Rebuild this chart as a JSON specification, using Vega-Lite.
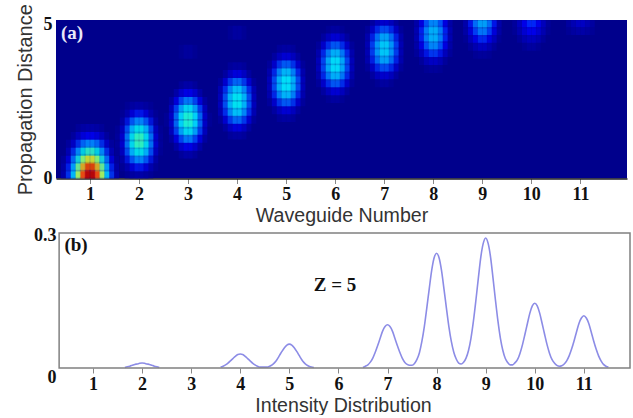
{"$schema":"https://vega.github.io/schema/vega-lite/v6.json","padding":{"left":10,"top":3,"right":0,"bottom":0},"background":"white","spacing":0,"config":{"font":"Liberation Sans","view":{"stroke":null}},"vconcat":[{"hconcat":[{"width":571,"height":158.5,"view":{"fill":"#00008c","stroke":null},"layer":[{"data":{"values":[
{"x":0.7,"z":0,"v":0.32},{"x":0.8,"z":0,"v":0.61},{"x":0.9,"z":0,"v":0.88},{"x":1,"z":0,"v":1},{"x":1.1,"z":0,"v":0.88},{"x":1.2,"z":0,"v":0.61},{"x":1.3,"z":0,"v":0.32},{"x":0.6,"z":0,"v":0.135},{"x":1.4,"z":0,"v":0.135},{"x":0.5,"z":0,"v":0.04},{"x":1.5,"z":0,"v":0.04},
{"x":0.5,"z":0.25,"v":0.04},{"x":0.6,"z":0.25,"v":0.13},{"x":0.7,"z":0.25,"v":0.3},{"x":0.8,"z":0.25,"v":0.57},{"x":0.9,"z":0.25,"v":0.82},{"x":1,"z":0.25,"v":0.93},{"x":1.1,"z":0.25,"v":0.82},{"x":1.2,"z":0.25,"v":0.57},{"x":1.3,"z":0.25,"v":0.3},{"x":1.4,"z":0.25,"v":0.13},{"x":1.5,"z":0.25,"v":0.04},
{"x":0.5,"z":0.5,"v":0.03},{"x":0.6,"z":0.5,"v":0.1},{"x":0.7,"z":0.5,"v":0.23},{"x":0.8,"z":0.5,"v":0.43},{"x":0.9,"z":0.5,"v":0.62},{"x":1,"z":0.5,"v":0.71},{"x":1.1,"z":0.5,"v":0.62},{"x":1.2,"z":0.5,"v":0.43},{"x":1.3,"z":0.5,"v":0.23},{"x":1.4,"z":0.5,"v":0.1},{"x":1.5,"z":0.5,"v":0.03},
{"x":0.6,"z":0.75,"v":0.06},{"x":0.7,"z":0.75,"v":0.15},{"x":0.8,"z":0.75,"v":0.28},{"x":0.9,"z":0.75,"v":0.41},{"x":1,"z":0.75,"v":0.46},{"x":1.1,"z":0.75,"v":0.41},{"x":1.2,"z":0.75,"v":0.28},{"x":1.3,"z":0.75,"v":0.15},{"x":1.4,"z":0.75,"v":0.06},
{"x":0.6,"z":1,"v":0.034},{"x":0.7,"z":1,"v":0.08},{"x":0.8,"z":1,"v":0.15},{"x":0.9,"z":1,"v":0.22},{"x":1,"z":1,"v":0.25},{"x":1.1,"z":1,"v":0.22},{"x":1.2,"z":1,"v":0.15},{"x":1.3,"z":1,"v":0.08},{"x":1.4,"z":1,"v":0.034},
{"x":0.7,"z":1.25,"v":0.035},{"x":0.8,"z":1.25,"v":0.07},{"x":0.9,"z":1.25,"v":0.1},{"x":1,"z":1.25,"v":0.11},{"x":1.1,"z":1.25,"v":0.1},{"x":1.2,"z":1.25,"v":0.07},{"x":1.3,"z":1.25,"v":0.035},
{"x":0.8,"z":1.5,"v":0.025},{"x":0.9,"z":1.5,"v":0.035},{"x":1,"z":1.5,"v":0.04},{"x":1.1,"z":1.5,"v":0.035},{"x":1.2,"z":1.5,"v":0.025},
{"x":1.6,"z":1.2,"v":0.02},{"x":1.7,"z":1.2,"v":0.08},{"x":1.8,"z":1.2,"v":0.22},{"x":1.9,"z":1.2,"v":0.39},{"x":2,"z":1.2,"v":0.47},{"x":2.1,"z":1.2,"v":0.39},{"x":2.2,"z":1.2,"v":0.22},{"x":2.3,"z":1.2,"v":0.08},{"x":2.4,"z":1.2,"v":0.02},
{"x":1.6,"z":0.95,"v":0.02},{"x":1.7,"z":0.95,"v":0.07},{"x":1.8,"z":0.95,"v":0.19},{"x":1.9,"z":0.95,"v":0.33},{"x":2,"z":0.95,"v":0.4},{"x":2.1,"z":0.95,"v":0.33},{"x":2.2,"z":0.95,"v":0.19},{"x":2.3,"z":0.95,"v":0.07},{"x":2.4,"z":0.95,"v":0.02},
{"x":1.6,"z":1.45,"v":0.02},{"x":1.7,"z":1.45,"v":0.07},{"x":1.8,"z":1.45,"v":0.19},{"x":1.9,"z":1.45,"v":0.33},{"x":2,"z":1.45,"v":0.4},{"x":2.1,"z":1.45,"v":0.33},{"x":2.2,"z":1.45,"v":0.19},{"x":2.3,"z":1.45,"v":0.07},{"x":2.4,"z":1.45,"v":0.02},
{"x":1.7,"z":0.7,"v":0.04},{"x":1.8,"z":0.7,"v":0.12},{"x":1.9,"z":0.7,"v":0.21},{"x":2,"z":0.7,"v":0.25},{"x":2.1,"z":0.7,"v":0.21},{"x":2.2,"z":0.7,"v":0.12},{"x":2.3,"z":0.7,"v":0.04},
{"x":1.7,"z":1.7,"v":0.04},{"x":1.8,"z":1.7,"v":0.12},{"x":1.9,"z":1.7,"v":0.21},{"x":2,"z":1.7,"v":0.25},{"x":2.1,"z":1.7,"v":0.21},{"x":2.2,"z":1.7,"v":0.12},{"x":2.3,"z":1.7,"v":0.04},
{"x":1.7,"z":0.45,"v":0.02},{"x":1.8,"z":0.45,"v":0.05},{"x":1.9,"z":0.45,"v":0.1},{"x":2,"z":0.45,"v":0.12},{"x":2.1,"z":0.45,"v":0.1},{"x":2.2,"z":0.45,"v":0.05},{"x":2.3,"z":0.45,"v":0.02},
{"x":1.7,"z":1.95,"v":0.02},{"x":1.8,"z":1.95,"v":0.05},{"x":1.9,"z":1.95,"v":0.1},{"x":2,"z":1.95,"v":0.12},{"x":2.1,"z":1.95,"v":0.1},{"x":2.2,"z":1.95,"v":0.05},{"x":2.3,"z":1.95,"v":0.02},
{"x":1.8,"z":0.2,"v":0.02},{"x":1.9,"z":0.2,"v":0.03},{"x":2,"z":0.2,"v":0.04},{"x":2.1,"z":0.2,"v":0.03},{"x":2.2,"z":0.2,"v":0.02},
{"x":1.8,"z":2.2,"v":0.02},{"x":1.9,"z":2.2,"v":0.03},{"x":2,"z":2.2,"v":0.04},{"x":2.1,"z":2.2,"v":0.03},{"x":2.2,"z":2.2,"v":0.02},
{"x":2.6,"z":1.85,"v":0.02},{"x":2.7,"z":1.85,"v":0.07},{"x":2.8,"z":1.85,"v":0.2},{"x":2.9,"z":1.85,"v":0.36},{"x":3,"z":1.85,"v":0.44},{"x":3.1,"z":1.85,"v":0.36},{"x":3.2,"z":1.85,"v":0.2},{"x":3.3,"z":1.85,"v":0.07},{"x":3.4,"z":1.85,"v":0.02},
{"x":2.7,"z":1.6,"v":0.07},{"x":2.8,"z":1.6,"v":0.18},{"x":2.9,"z":1.6,"v":0.31},{"x":3,"z":1.6,"v":0.38},{"x":3.1,"z":1.6,"v":0.31},{"x":3.2,"z":1.6,"v":0.18},{"x":3.3,"z":1.6,"v":0.07},
{"x":2.7,"z":2.1,"v":0.07},{"x":2.8,"z":2.1,"v":0.18},{"x":2.9,"z":2.1,"v":0.31},{"x":3,"z":2.1,"v":0.38},{"x":3.1,"z":2.1,"v":0.31},{"x":3.2,"z":2.1,"v":0.18},{"x":3.3,"z":2.1,"v":0.07},
{"x":2.7,"z":1.35,"v":0.04},{"x":2.8,"z":1.35,"v":0.11},{"x":2.9,"z":1.35,"v":0.19},{"x":3,"z":1.35,"v":0.24},{"x":3.1,"z":1.35,"v":0.19},{"x":3.2,"z":1.35,"v":0.11},{"x":3.3,"z":1.35,"v":0.04},
{"x":2.7,"z":2.35,"v":0.04},{"x":2.8,"z":2.35,"v":0.11},{"x":2.9,"z":2.35,"v":0.19},{"x":3,"z":2.35,"v":0.24},{"x":3.1,"z":2.35,"v":0.19},{"x":3.2,"z":2.35,"v":0.11},{"x":3.3,"z":2.35,"v":0.04},
{"x":2.8,"z":1.1,"v":0.05},{"x":2.9,"z":1.1,"v":0.09},{"x":3,"z":1.1,"v":0.11},{"x":3.1,"z":1.1,"v":0.09},{"x":3.2,"z":1.1,"v":0.05},
{"x":2.8,"z":2.6,"v":0.05},{"x":2.9,"z":2.6,"v":0.09},{"x":3,"z":2.6,"v":0.11},{"x":3.1,"z":2.6,"v":0.09},{"x":3.2,"z":2.6,"v":0.05},
{"x":2.9,"z":0.85,"v":0.03},{"x":3,"z":0.85,"v":0.04},{"x":3.1,"z":0.85,"v":0.03},{"x":2.9,"z":2.85,"v":0.03},{"x":3,"z":2.85,"v":0.04},{"x":3.1,"z":2.85,"v":0.03},
{"x":3.7,"z":2.45,"v":0.06},{"x":3.8,"z":2.45,"v":0.17},{"x":3.9,"z":2.45,"v":0.31},{"x":4,"z":2.45,"v":0.38},{"x":4.1,"z":2.45,"v":0.31},{"x":4.2,"z":2.45,"v":0.17},{"x":4.3,"z":2.45,"v":0.06},
{"x":3.7,"z":2.2,"v":0.06},{"x":3.8,"z":2.2,"v":0.15},{"x":3.9,"z":2.2,"v":0.27},{"x":4,"z":2.2,"v":0.33},{"x":4.1,"z":2.2,"v":0.27},{"x":4.2,"z":2.2,"v":0.15},{"x":4.3,"z":2.2,"v":0.06},
{"x":3.7,"z":2.7,"v":0.06},{"x":3.8,"z":2.7,"v":0.15},{"x":3.9,"z":2.7,"v":0.27},{"x":4,"z":2.7,"v":0.33},{"x":4.1,"z":2.7,"v":0.27},{"x":4.2,"z":2.7,"v":0.15},{"x":4.3,"z":2.7,"v":0.06},
{"x":3.7,"z":1.95,"v":0.03},{"x":3.8,"z":1.95,"v":0.1},{"x":3.9,"z":1.95,"v":0.17},{"x":4,"z":1.95,"v":0.21},{"x":4.1,"z":1.95,"v":0.17},{"x":4.2,"z":1.95,"v":0.1},{"x":4.3,"z":1.95,"v":0.03},
{"x":3.7,"z":2.95,"v":0.03},{"x":3.8,"z":2.95,"v":0.1},{"x":3.9,"z":2.95,"v":0.17},{"x":4,"z":2.95,"v":0.21},{"x":4.1,"z":2.95,"v":0.17},{"x":4.2,"z":2.95,"v":0.1},{"x":4.3,"z":2.95,"v":0.03},
{"x":3.8,"z":1.7,"v":0.04},{"x":3.9,"z":1.7,"v":0.08},{"x":4,"z":1.7,"v":0.1},{"x":4.1,"z":1.7,"v":0.08},{"x":4.2,"z":1.7,"v":0.04},
{"x":3.8,"z":3.2,"v":0.04},{"x":3.9,"z":3.2,"v":0.08},{"x":4,"z":3.2,"v":0.1},{"x":4.1,"z":3.2,"v":0.08},{"x":4.2,"z":3.2,"v":0.04},
{"x":3.9,"z":1.45,"v":0.03},{"x":4,"z":1.45,"v":0.03},{"x":4.1,"z":1.45,"v":0.03},{"x":3.9,"z":3.45,"v":0.03},{"x":4,"z":3.45,"v":0.03},{"x":4.1,"z":3.45,"v":0.03},
{"x":4.7,"z":3,"v":0.06},{"x":4.8,"z":3,"v":0.17},{"x":4.9,"z":3,"v":0.3},{"x":5,"z":3,"v":0.36},{"x":5.1,"z":3,"v":0.3},{"x":5.2,"z":3,"v":0.17},{"x":5.3,"z":3,"v":0.06},
{"x":4.7,"z":2.75,"v":0.05},{"x":4.8,"z":2.75,"v":0.14},{"x":4.9,"z":2.75,"v":0.26},{"x":5,"z":2.75,"v":0.31},{"x":5.1,"z":2.75,"v":0.26},{"x":5.2,"z":2.75,"v":0.14},{"x":5.3,"z":2.75,"v":0.05},
{"x":4.7,"z":3.25,"v":0.05},{"x":4.8,"z":3.25,"v":0.14},{"x":4.9,"z":3.25,"v":0.26},{"x":5,"z":3.25,"v":0.31},{"x":5.1,"z":3.25,"v":0.26},{"x":5.2,"z":3.25,"v":0.14},{"x":5.3,"z":3.25,"v":0.05},
{"x":4.7,"z":2.5,"v":0.03},{"x":4.8,"z":2.5,"v":0.09},{"x":4.9,"z":2.5,"v":0.16},{"x":5,"z":2.5,"v":0.19},{"x":5.1,"z":2.5,"v":0.16},{"x":5.2,"z":2.5,"v":0.09},{"x":5.3,"z":2.5,"v":0.03},
{"x":4.7,"z":3.5,"v":0.03},{"x":4.8,"z":3.5,"v":0.09},{"x":4.9,"z":3.5,"v":0.16},{"x":5,"z":3.5,"v":0.19},{"x":5.1,"z":3.5,"v":0.16},{"x":5.2,"z":3.5,"v":0.09},{"x":5.3,"z":3.5,"v":0.03},
{"x":4.8,"z":2.25,"v":0.04},{"x":4.9,"z":2.25,"v":0.07},{"x":5,"z":2.25,"v":0.09},{"x":5.1,"z":2.25,"v":0.07},{"x":5.2,"z":2.25,"v":0.04},
{"x":4.8,"z":3.75,"v":0.04},{"x":4.9,"z":3.75,"v":0.07},{"x":5,"z":3.75,"v":0.09},{"x":5.1,"z":3.75,"v":0.07},{"x":5.2,"z":3.75,"v":0.04},
{"x":4.9,"z":2,"v":0.03},{"x":5,"z":2,"v":0.03},{"x":5.1,"z":2,"v":0.03},{"x":4.9,"z":4,"v":0.03},{"x":5,"z":4,"v":0.03},{"x":5.1,"z":4,"v":0.03},
{"x":5.7,"z":3.6,"v":0.06},{"x":5.8,"z":3.6,"v":0.16},{"x":5.9,"z":3.6,"v":0.29},{"x":6,"z":3.6,"v":0.35},{"x":6.1,"z":3.6,"v":0.29},{"x":6.2,"z":3.6,"v":0.16},{"x":6.3,"z":3.6,"v":0.06},
{"x":5.7,"z":3.35,"v":0.05},{"x":5.8,"z":3.35,"v":0.14},{"x":5.9,"z":3.35,"v":0.25},{"x":6,"z":3.35,"v":0.3},{"x":6.1,"z":3.35,"v":0.25},{"x":6.2,"z":3.35,"v":0.14},{"x":6.3,"z":3.35,"v":0.05},
{"x":5.7,"z":3.85,"v":0.05},{"x":5.8,"z":3.85,"v":0.14},{"x":5.9,"z":3.85,"v":0.25},{"x":6,"z":3.85,"v":0.3},{"x":6.1,"z":3.85,"v":0.25},{"x":6.2,"z":3.85,"v":0.14},{"x":6.3,"z":3.85,"v":0.05},
{"x":5.7,"z":3.1,"v":0.03},{"x":5.8,"z":3.1,"v":0.09},{"x":5.9,"z":3.1,"v":0.15},{"x":6,"z":3.1,"v":0.19},{"x":6.1,"z":3.1,"v":0.15},{"x":6.2,"z":3.1,"v":0.09},{"x":6.3,"z":3.1,"v":0.03},
{"x":5.7,"z":4.1,"v":0.03},{"x":5.8,"z":4.1,"v":0.09},{"x":5.9,"z":4.1,"v":0.15},{"x":6,"z":4.1,"v":0.19},{"x":6.1,"z":4.1,"v":0.15},{"x":6.2,"z":4.1,"v":0.09},{"x":6.3,"z":4.1,"v":0.03},
{"x":5.8,"z":2.85,"v":0.04},{"x":5.9,"z":2.85,"v":0.07},{"x":6,"z":2.85,"v":0.09},{"x":6.1,"z":2.85,"v":0.07},{"x":6.2,"z":2.85,"v":0.04},
{"x":5.8,"z":4.35,"v":0.04},{"x":5.9,"z":4.35,"v":0.07},{"x":6,"z":4.35,"v":0.09},{"x":6.1,"z":4.35,"v":0.07},{"x":6.2,"z":4.35,"v":0.04},
{"x":5.9,"z":2.6,"v":0.02},{"x":6,"z":2.6,"v":0.03},{"x":6.1,"z":2.6,"v":0.02},{"x":5.9,"z":4.6,"v":0.02},{"x":6,"z":4.6,"v":0.03},{"x":6.1,"z":4.6,"v":0.02},
{"x":6.7,"z":4.1,"v":0.05},{"x":6.8,"z":4.1,"v":0.15},{"x":6.9,"z":4.1,"v":0.26},{"x":7,"z":4.1,"v":0.32},{"x":7.1,"z":4.1,"v":0.26},{"x":7.2,"z":4.1,"v":0.15},{"x":7.3,"z":4.1,"v":0.05},
{"x":6.7,"z":3.85,"v":0.05},{"x":6.8,"z":3.85,"v":0.13},{"x":6.9,"z":3.85,"v":0.23},{"x":7,"z":3.85,"v":0.28},{"x":7.1,"z":3.85,"v":0.23},{"x":7.2,"z":3.85,"v":0.13},{"x":7.3,"z":3.85,"v":0.05},
{"x":6.7,"z":4.35,"v":0.05},{"x":6.8,"z":4.35,"v":0.13},{"x":6.9,"z":4.35,"v":0.23},{"x":7,"z":4.35,"v":0.28},{"x":7.1,"z":4.35,"v":0.23},{"x":7.2,"z":4.35,"v":0.13},{"x":7.3,"z":4.35,"v":0.05},
{"x":6.7,"z":3.6,"v":0.03},{"x":6.8,"z":3.6,"v":0.08},{"x":6.9,"z":3.6,"v":0.14},{"x":7,"z":3.6,"v":0.17},{"x":7.1,"z":3.6,"v":0.14},{"x":7.2,"z":3.6,"v":0.08},{"x":7.3,"z":3.6,"v":0.03},
{"x":6.7,"z":4.6,"v":0.03},{"x":6.8,"z":4.6,"v":0.08},{"x":6.9,"z":4.6,"v":0.14},{"x":7,"z":4.6,"v":0.17},{"x":7.1,"z":4.6,"v":0.14},{"x":7.2,"z":4.6,"v":0.08},{"x":7.3,"z":4.6,"v":0.03},
{"x":6.8,"z":3.35,"v":0.04},{"x":6.9,"z":3.35,"v":0.07},{"x":7,"z":3.35,"v":0.08},{"x":7.1,"z":3.35,"v":0.07},{"x":7.2,"z":3.35,"v":0.04},
{"x":6.8,"z":4.85,"v":0.04},{"x":6.9,"z":4.85,"v":0.07},{"x":7,"z":4.85,"v":0.08},{"x":7.1,"z":4.85,"v":0.07},{"x":7.2,"z":4.85,"v":0.04},
{"x":6.9,"z":3.1,"v":0.02},{"x":7,"z":3.1,"v":0.03},{"x":7.1,"z":3.1,"v":0.02},{"x":6.9,"z":5.1,"v":0.02},{"x":7,"z":5.1,"v":0.03},{"x":7.1,"z":5.1,"v":0.02},
{"x":7.7,"z":4.55,"v":0.05},{"x":7.8,"z":4.55,"v":0.13},{"x":7.9,"z":4.55,"v":0.23},{"x":8,"z":4.55,"v":0.28},{"x":8.1,"z":4.55,"v":0.23},{"x":8.2,"z":4.55,"v":0.13},{"x":8.3,"z":4.55,"v":0.05},
{"x":7.7,"z":4.3,"v":0.04},{"x":7.8,"z":4.3,"v":0.11},{"x":7.9,"z":4.3,"v":0.2},{"x":8,"z":4.3,"v":0.24},{"x":8.1,"z":4.3,"v":0.2},{"x":8.2,"z":4.3,"v":0.11},{"x":8.3,"z":4.3,"v":0.04},
{"x":7.7,"z":4.8,"v":0.04},{"x":7.8,"z":4.8,"v":0.11},{"x":7.9,"z":4.8,"v":0.2},{"x":8,"z":4.8,"v":0.24},{"x":8.1,"z":4.8,"v":0.2},{"x":8.2,"z":4.8,"v":0.11},{"x":8.3,"z":4.8,"v":0.04},
{"x":7.7,"z":4.05,"v":0.03},{"x":7.8,"z":4.05,"v":0.07},{"x":7.9,"z":4.05,"v":0.12},{"x":8,"z":4.05,"v":0.15},{"x":8.1,"z":4.05,"v":0.12},{"x":8.2,"z":4.05,"v":0.07},{"x":8.3,"z":4.05,"v":0.03},
{"x":7.7,"z":5.05,"v":0.03},{"x":7.8,"z":5.05,"v":0.07},{"x":7.9,"z":5.05,"v":0.12},{"x":8,"z":5.05,"v":0.15},{"x":8.1,"z":5.05,"v":0.12},{"x":8.2,"z":5.05,"v":0.07},{"x":8.3,"z":5.05,"v":0.03},
{"x":7.8,"z":3.8,"v":0.03},{"x":7.9,"z":3.8,"v":0.06},{"x":8,"z":3.8,"v":0.07},{"x":8.1,"z":3.8,"v":0.06},{"x":8.2,"z":3.8,"v":0.03},
{"x":7.9,"z":3.55,"v":0.02},{"x":8,"z":3.55,"v":0.02},{"x":8.1,"z":3.55,"v":0.02},
{"x":8.7,"z":5,"v":0.04},{"x":8.8,"z":5,"v":0.12},{"x":8.9,"z":5,"v":0.21},{"x":9,"z":5,"v":0.26},{"x":9.1,"z":5,"v":0.21},{"x":9.2,"z":5,"v":0.12},{"x":9.3,"z":5,"v":0.04},
{"x":8.7,"z":4.75,"v":0.04},{"x":8.8,"z":4.75,"v":0.1},{"x":8.9,"z":4.75,"v":0.18},{"x":9,"z":4.75,"v":0.22},{"x":9.1,"z":4.75,"v":0.18},{"x":9.2,"z":4.75,"v":0.1},{"x":9.3,"z":4.75,"v":0.04},
{"x":8.7,"z":4.5,"v":0.02},{"x":8.8,"z":4.5,"v":0.07},{"x":8.9,"z":4.5,"v":0.11},{"x":9,"z":4.5,"v":0.14},{"x":9.1,"z":4.5,"v":0.11},{"x":9.2,"z":4.5,"v":0.07},{"x":9.3,"z":4.5,"v":0.02},
{"x":8.8,"z":4.25,"v":0.03},{"x":8.9,"z":4.25,"v":0.05},{"x":9,"z":4.25,"v":0.07},{"x":9.1,"z":4.25,"v":0.05},{"x":9.2,"z":4.25,"v":0.03},
{"x":8.9,"z":4,"v":0.02},{"x":9,"z":4,"v":0.02},{"x":9.1,"z":4,"v":0.02},
{"x":9.7,"z":5,"v":0.02},{"x":9.8,"z":5,"v":0.06},{"x":9.9,"z":5,"v":0.11},{"x":10,"z":5,"v":0.14},{"x":10.1,"z":5,"v":0.11},{"x":10.2,"z":5,"v":0.06},{"x":10.3,"z":5,"v":0.02},
{"x":9.7,"z":4.75,"v":0.02},{"x":9.8,"z":4.75,"v":0.05},{"x":9.9,"z":4.75,"v":0.09},{"x":10,"z":4.75,"v":0.11},{"x":10.1,"z":4.75,"v":0.09},{"x":10.2,"z":4.75,"v":0.05},{"x":10.3,"z":4.75,"v":0.02},
{"x":9.8,"z":4.5,"v":0.03},{"x":9.9,"z":4.5,"v":0.05},{"x":10,"z":4.5,"v":0.06},{"x":10.1,"z":4.5,"v":0.05},{"x":10.2,"z":4.5,"v":0.03},
{"x":9.9,"z":4.25,"v":0.02},{"x":10,"z":4.25,"v":0.03},{"x":10.1,"z":4.25,"v":0.02},
{"x":10.8,"z":5,"v":0.03},{"x":10.9,"z":5,"v":0.05},{"x":11,"z":5,"v":0.07},{"x":11.1,"z":5,"v":0.05},{"x":11.2,"z":5,"v":0.03},
{"x":10.8,"z":4.75,"v":0.02},{"x":10.9,"z":4.75,"v":0.03},{"x":11,"z":4.75,"v":0.04},{"x":11.1,"z":4.75,"v":0.03},{"x":11.2,"z":4.75,"v":0.02},
{"x":3.9,"z":4.6,"v":0.02},{"x":4,"z":4.6,"v":0.03},{"x":4.1,"z":4.6,"v":0.02},{"x":2.9,"z":4,"v":0.015},{"x":3,"z":4,"v":0.025},{"x":3.1,"z":4,"v":0.015}
]},"mark":{"type":"rect","width":9,"height":14,"opacity":0.5,"clip":true},"encoding":{"order":{"field":"v","type":"quantitative","sort":"ascending"},"x":{"field":"x","type":"quantitative","scale":{"domain":[0.307,11.95],"nice":false,"zero":false},"axis":{"values":[1,2,3,4,5,6,7,8,9,10,11],"format":"d","grid":false,"title":"Waveguide Number","titleFont":"Liberation Sans","titleFontSize":19.6,"titleFontWeight":"normal","titleColor":"#333333","titlePadding":3,"labelFont":"Liberation Serif","labelFontWeight":"bold","labelFontSize":18,"labelColor":"#111111","labelPadding":2,"tickColor":"#888888","tickSize":5,"domainColor":"#222222","domainWidth":1.5}},"y":{"field":"z","type":"quantitative","scale":{"domain":[0,5],"nice":false,"zero":false},"axis":{"values":[0,5],"grid":false,"title":"Propagation Distance","titleFont":"Liberation Sans","titleFontSize":20,"titleFontWeight":"normal","titleColor":"#333333","titlePadding":8,"labelFont":"Liberation Serif","labelFontWeight":"bold","labelFontSize":18,"labelColor":"#111111","labelPadding":4,"labelOffset":{"condition":{"test":"datum.value==5","value":4},"value":0},"ticks":false,"domain":false}},"color":{"field":"v","type":"quantitative","legend":null,"scale":{"domain":[0,0.11,0.36,0.5,0.64,0.88,1],"range":["#00008c","#0000ff","#00ffff","#80ff80","#ffff00","#ff0000","#a00000"]}}}},{"data":{"values":[{"x":0.633,"z":4.6,"label":"(a)"}]},"mark":{"type":"text","font":"Liberation Serif","fontWeight":"bold","fontSize":19,"color":"#e8e8f8"},"encoding":{"x":{"field":"x","type":"quantitative"},"y":{"field":"z","type":"quantitative"},"text":{"field":"label"}}}]}]},
{"hconcat":[{"width":574,"height":135,"view":{"stroke":null},"layer":[{"data":{"values":[
{"s":"a","x":1.65,"y":0.001},{"s":"a","x":1.7,"y":0.003},{"s":"a","x":1.75,"y":0.004},{"s":"a","x":1.8,"y":0.006},{"s":"a","x":1.85,"y":0.008},{"s":"a","x":1.9,"y":0.009},{"s":"a","x":1.95,"y":0.0105},{"s":"a","x":2,"y":0.011},{"s":"a","x":2.05,"y":0.0105},{"s":"a","x":2.1,"y":0.009},{"s":"a","x":2.15,"y":0.008},{"s":"a","x":2.2,"y":0.006},{"s":"a","x":2.25,"y":0.004},{"s":"a","x":2.3,"y":0.003},{"s":"a","x":2.35,"y":0.001},
{"s":"b","x":3.6,"y":0.002},{"s":"b","x":3.65,"y":0.004},{"s":"b","x":3.7,"y":0.007},{"s":"b","x":3.75,"y":0.011},{"s":"b","x":3.8,"y":0.016},{"s":"b","x":3.85,"y":0.021},{"s":"b","x":3.9,"y":0.026},{"s":"b","x":3.95,"y":0.03},{"s":"b","x":4,"y":0.031},{"s":"b","x":4.05,"y":0.03},{"s":"b","x":4.1,"y":0.026},{"s":"b","x":4.15,"y":0.021},{"s":"b","x":4.2,"y":0.016},{"s":"b","x":4.25,"y":0.011},{"s":"b","x":4.3,"y":0.007},{"s":"b","x":4.35,"y":0.004},{"s":"b","x":4.4,"y":0.002},{"s":"b","x":4.45,"y":0.002},{"s":"b","x":4.5,"y":0.002},{"s":"b","x":4.55,"y":0.002},{"s":"b","x":4.6,"y":0.004},{"s":"b","x":4.65,"y":0.007},{"s":"b","x":4.7,"y":0.012},{"s":"b","x":4.75,"y":0.019},{"s":"b","x":4.8,"y":0.028},{"s":"b","x":4.85,"y":0.037},{"s":"b","x":4.9,"y":0.045},{"s":"b","x":4.95,"y":0.051},{"s":"b","x":5,"y":0.053},{"s":"b","x":5.05,"y":0.051},{"s":"b","x":5.1,"y":0.045},{"s":"b","x":5.15,"y":0.037},{"s":"b","x":5.2,"y":0.028},{"s":"b","x":5.25,"y":0.019},{"s":"b","x":5.3,"y":0.012},{"s":"b","x":5.35,"y":0.007},{"s":"b","x":5.4,"y":0.004},{"s":"b","x":5.45,"y":0.002},{"s":"b","x":5.5,"y":0.001},
{"s":"c","x":6.5,"y":0.001},{"s":"c","x":6.55,"y":0.004},{"s":"c","x":6.6,"y":0.007},{"s":"c","x":6.65,"y":0.013},{"s":"c","x":6.7,"y":0.022},{"s":"c","x":6.75,"y":0.035},{"s":"c","x":6.8,"y":0.05},{"s":"c","x":6.85,"y":0.066},{"s":"c","x":6.9,"y":0.082},{"s":"c","x":6.95,"y":0.092},{"s":"c","x":7,"y":0.096},{"s":"c","x":7.05,"y":0.092},{"s":"c","x":7.1,"y":0.082},{"s":"c","x":7.15,"y":0.066},{"s":"c","x":7.2,"y":0.05},{"s":"c","x":7.25,"y":0.035},{"s":"c","x":7.3,"y":0.022},{"s":"c","x":7.35,"y":0.013},{"s":"c","x":7.4,"y":0.008},{"s":"c","x":7.45,"y":0.006},{"s":"c","x":7.5,"y":0.006},{"s":"c","x":7.55,"y":0.01},{"s":"c","x":7.6,"y":0.019},{"s":"c","x":7.65,"y":0.034},{"s":"c","x":7.7,"y":0.059},{"s":"c","x":7.75,"y":0.092},{"s":"c","x":7.8,"y":0.133},{"s":"c","x":7.85,"y":0.176},{"s":"c","x":7.9,"y":0.217},{"s":"c","x":7.95,"y":0.245},{"s":"c","x":8,"y":0.255},{"s":"c","x":8.05,"y":0.245},{"s":"c","x":8.1,"y":0.217},{"s":"c","x":8.15,"y":0.176},{"s":"c","x":8.2,"y":0.133},{"s":"c","x":8.25,"y":0.092},{"s":"c","x":8.3,"y":0.059},{"s":"c","x":8.35,"y":0.035},{"s":"c","x":8.4,"y":0.02},{"s":"c","x":8.45,"y":0.011},{"s":"c","x":8.5,"y":0.009},{"s":"c","x":8.55,"y":0.013},{"s":"c","x":8.6,"y":0.022},{"s":"c","x":8.65,"y":0.039},{"s":"c","x":8.7,"y":0.066},{"s":"c","x":8.75,"y":0.104},{"s":"c","x":8.8,"y":0.15},{"s":"c","x":8.85,"y":0.199},{"s":"c","x":8.9,"y":0.246},{"s":"c","x":8.95,"y":0.277},{"s":"c","x":9,"y":0.289},{"s":"c","x":9.05,"y":0.277},{"s":"c","x":9.1,"y":0.246},{"s":"c","x":9.15,"y":0.199},{"s":"c","x":9.2,"y":0.15},{"s":"c","x":9.25,"y":0.104},{"s":"c","x":9.3,"y":0.066},{"s":"c","x":9.35,"y":0.039},{"s":"c","x":9.4,"y":0.021},{"s":"c","x":9.45,"y":0.012},{"s":"c","x":9.5,"y":0.007},{"s":"c","x":9.55,"y":0.007},{"s":"c","x":9.6,"y":0.012},{"s":"c","x":9.65,"y":0.019},{"s":"c","x":9.7,"y":0.033},{"s":"c","x":9.75,"y":0.052},{"s":"c","x":9.8,"y":0.075},{"s":"c","x":9.85,"y":0.099},{"s":"c","x":9.9,"y":0.122},{"s":"c","x":9.95,"y":0.138},{"s":"c","x":10,"y":0.144},{"s":"c","x":10.05,"y":0.138},{"s":"c","x":10.1,"y":0.122},{"s":"c","x":10.15,"y":0.099},{"s":"c","x":10.2,"y":0.075},{"s":"c","x":10.25,"y":0.052},{"s":"c","x":10.3,"y":0.033},{"s":"c","x":10.35,"y":0.019},{"s":"c","x":10.4,"y":0.011},{"s":"c","x":10.45,"y":0.006},{"s":"c","x":10.5,"y":0.004},{"s":"c","x":10.55,"y":0.005},{"s":"c","x":10.6,"y":0.009},{"s":"c","x":10.65,"y":0.016},{"s":"c","x":10.7,"y":0.027},{"s":"c","x":10.75,"y":0.042},{"s":"c","x":10.8,"y":0.06},{"s":"c","x":10.85,"y":0.08},{"s":"c","x":10.9,"y":0.099},{"s":"c","x":10.95,"y":0.111},{"s":"c","x":11,"y":0.116},{"s":"c","x":11.05,"y":0.111},{"s":"c","x":11.1,"y":0.099},{"s":"c","x":11.15,"y":0.08},{"s":"c","x":11.2,"y":0.06},{"s":"c","x":11.25,"y":0.042},{"s":"c","x":11.3,"y":0.027},{"s":"c","x":11.35,"y":0.016},{"s":"c","x":11.4,"y":0.008},{"s":"c","x":11.45,"y":0.004},{"s":"c","x":11.5,"y":0.002}
]},"mark":{"type":"line","color":"#8c8ce6","strokeWidth":1.6,"interpolate":"monotone"},"encoding":{"x":{"field":"x","type":"quantitative","scale":{"domain":[0.2464,11.94],"nice":false,"zero":false},"axis":{"values":[1,2,3,4,5,6,7,8,9,10,11],"format":"d","grid":false,"title":"Intensity Distribution","titleFont":"Liberation Sans","titleFontSize":19.6,"titleFontWeight":"normal","titleColor":"#333333","titlePadding":3,"labelFont":"Liberation Serif","labelFontWeight":"bold","labelFontSize":18,"labelColor":"#111111","labelPadding":2,"tickColor":"#888888","tickSize":5,"domain":false}},"y":{"field":"y","type":"quantitative","scale":{"domain":[0,0.3],"nice":false,"zero":false},"axis":{"values":[0,0.3],"format":".1~f","grid":false,"title":null,"labelFont":"Liberation Serif","labelFontWeight":"bold","labelFontSize":18,"labelColor":"#111111","labelPadding":0,"labelOffset":{"condition":{"test":"datum.value==0","value":9},"value":2},"ticks":false,"domain":false,"minExtent":46,"maxExtent":46}},"detail":{"field":"s"}}},{"data":{"values":[{"x":0.31,"x2":11.94,"y":0,"y2":0.3}]},"mark":{"type":"rect","fill":"transparent","stroke":"#808080","strokeWidth":1.5},"encoding":{"x":{"field":"x","type":"quantitative"},"x2":{"field":"x2"},"y":{"field":"y","type":"quantitative"},"y2":{"field":"y2"}}},{"data":{"values":[{"x":0.654,"y":0.273,"label":"(b)"},{"x":5.93,"y":0.184,"label":"Z = 5"}]},"mark":{"type":"text","font":"Liberation Serif","fontWeight":"bold","fontSize":19,"color":"#111111"},"encoding":{"x":{"field":"x","type":"quantitative"},"y":{"field":"y","type":"quantitative"},"text":{"field":"label"}}}]}]}]}
